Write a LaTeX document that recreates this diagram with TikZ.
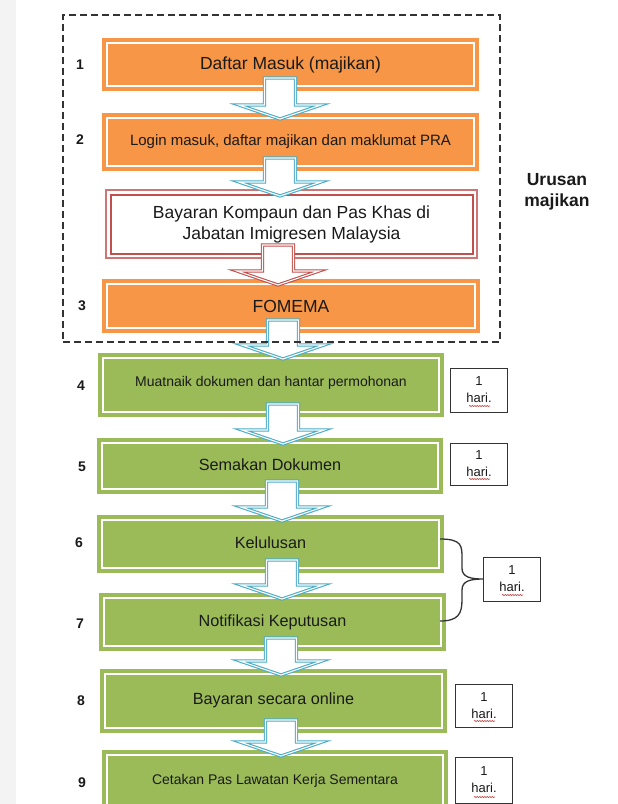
\documentclass[tikz,border=0pt]{standalone}
\usepackage{fontspec}
\setmainfont{Liberation Sans}
\usetikzlibrary{calc,decorations.pathmorphing}
\definecolor{orangeC}{HTML}{F79646}
\definecolor{greenC}{HTML}{9BBB59}
\definecolor{blueC}{HTML}{4BACC6}
\definecolor{redC}{HTML}{C0504D}
\definecolor{redL}{HTML}{CF7573}
\definecolor{txtC}{HTML}{1A1A1A}
\definecolor{stripC}{HTML}{F3F3F3}
\definecolor{lineC}{HTML}{333333}
\newcommand\fsz[2]{\fontsize{#1}{#2}\selectfont}
\newcommand\bArrow[4]{%
  \draw[barrow=#1] let \p1=(#2.south), \p2=(#3.north) in
    ({#4pt-15.5pt},{\y1+13pt}) -- ({#4pt+15.5pt},{\y1+13pt}) --
    ({#4pt+15.5pt},{\y2+8pt}) -- ({#4pt+41pt},{\y2+8pt}) --
    ({#4pt},{\y2-6pt}) -- ({#4pt-41pt},{\y2+8pt}) --
    ({#4pt-15.5pt},{\y2+8pt}) -- cycle;}
\begin{document}
\begin{tikzpicture}[x=1pt,y=-1pt,
  every node/.style={inner sep=0pt, outer sep=0pt, text=txtC},
  fbox/.style={rectangle, fill=#1, align=center,
    path picture={\draw[white,line width=1.4pt]
      ([shift={(5pt,5pt)}]path picture bounding box.south west) rectangle
      ([shift={(-5pt,-5pt)}]path picture bounding box.north east);}},
  rbox/.style={rectangle, fill=white, draw=redL, line width=1.2pt, align=center,
    path picture={\draw[redC,line width=2pt]
      ([shift={(4.5pt,4.5pt)}]path picture bounding box.south west) rectangle
      ([shift={(-4.5pt,-4.5pt)}]path picture bounding box.north east);}},
  num/.style={font=\fsz{14}{16}\bfseries},
  haribox/.style={rectangle, draw=lineC, line width=1pt, fill=white,
    minimum width=57pt, minimum height=44pt, align=center, font=\fsz{13}{17}},
  barrow/.style={fill=white, draw=#1, double=white, double distance=1.1pt,
    line width=1.1pt, line join=miter},
  squig/.style={redC, line width=0.6pt, decorate,
    decoration={snake, amplitude=0.6pt, segment length=2.5pt}},
  brace/.style={draw=lineC, line width=1.3pt},
  grp/.style={draw=lineC, line width=1.6pt, dash pattern=on 7pt off 4pt}]

\useasboundingbox (0,0) rectangle (618,804);
\clip (0,0) rectangle (618,804);
\fill[white] (0,0) rectangle (618,804);
\fill[stripC] (0,0) rectangle (16,804);

% boxes
\node[fbox=orangeC, minimum width=377pt, minimum height=53pt, font=\fsz{17.5}{21}]
  (b1) at (290.5,64.5) {Daftar Masuk (majikan)};
\node[fbox=orangeC, minimum width=377pt, minimum height=58pt, font=\fsz{15}{18}]
  (b2) at (290.5,142) {Login masuk, daftar majikan dan maklumat PRA};
\node[rbox, minimum width=371pt, minimum height=68pt, font=\fsz{17.5}{21}]
  (b3) at (291.5,224) {\raisebox{2.5pt}{\parbox{360pt}{\centering Bayaran Kompaun dan Pas Khas di\\Jabatan Imigresen Malaysia}}};
\node[fbox=orangeC, minimum width=378pt, minimum height=54pt, font=\fsz{17.5}{21}]
  (bF) at (291,306) {FOMEMA};
\node[fbox=greenC, minimum width=346pt, minimum height=64pt, font=\fsz{14}{17}]
  (b4) at (271,385) {\raisebox{7pt}{Muatnaik dokumen dan hantar permohonan}};
\node[fbox=greenC, minimum width=346pt, minimum height=56pt, font=\fsz{16.2}{19}]
  (b5) at (270,466) {\raisebox{2pt}{Semakan Dokumen}};
\node[fbox=greenC, minimum width=347pt, minimum height=58pt, font=\fsz{16.2}{19}]
  (b6) at (270.5,544) {\raisebox{2pt}{Kelulusan}};
\node[fbox=greenC, minimum width=347pt, minimum height=58pt, font=\fsz{16.2}{19}]
  (b7) at (272.5,622) {\raisebox{2pt}{Notifikasi Keputusan}};
\node[fbox=greenC, minimum width=347pt, minimum height=64pt, font=\fsz{16.2}{19}]
  (b8) at (273.5,701) {\raisebox{4pt}{Bayaran secara online}};
\node[fbox=greenC, minimum width=346pt, minimum height=64pt, font=\fsz{14}{17}]
  (b9) at (275,782) {\raisebox{5pt}{Cetakan Pas Lawatan Kerja Sementara}};

% step numbers
\node[num] (n1) at (80,65) {1};
\node[num] (n2) at (80,140) {2};
\node[num] (n3) at (82,306) {3};
\node[num] (n4) at (81,386) {4};
\node[num] (n5) at (82,467) {5};
\node[num] (n6) at (79,543) {6};
\node[num] (n7) at (80,624) {7};
\node[num] (n8) at (81,701) {8};
\node[num] (n9) at (82,783) {9};

% block arrows
\bArrow{blueC}{b1}{b2}{280}
\bArrow{blueC}{b2}{b3}{280}
\bArrow{redC}{b3}{bF}{278}
\bArrow{blueC}{bF}{b4}{283}
\bArrow{blueC}{b4}{b5}{283}
\bArrow{blueC}{b5}{b6}{282}
\bArrow{blueC}{b6}{b7}{282}
\bArrow{blueC}{b7}{b8}{281}
\bArrow{blueC}{b8}{b9}{281}

% employer group
\node[grp, minimum width=437pt, minimum height=327pt] (grpbox) at (281.5,178.5) {};
\node[font=\fsz{17.5}{21}\bfseries, align=center] (urusan) at (557,191.5) {Urusan\\majikan};

% day boxes
\node[haribox, minimum height=44pt] (hb4) at (479,390) {1\\hari.};
\node[haribox, minimum height=42pt] (hb5) at (479,464) {1\\hari.};
\node[haribox] (hb67) at (512,579) {1\\hari.};
\node[haribox, minimum height=43pt] (hb8) at (484,705.5) {1\\hari.};
\node[haribox, minimum height=46pt] (hb9) at (484,780) {1\\hari.};
\foreach \h in {hb4,hb5,hb67,hb8,hb9}{
  \draw[squig] ([xshift=-10pt,yshift=6pt]\h.south) -- ([xshift=11pt,yshift=6pt]\h.south);
}

% brace for steps 6 and 7
\draw[brace] ([xshift=-4pt,yshift=5pt]b6.east) .. controls (462,539) and (462,546) .. (462,558)
  -- (462,568) .. controls (462,577) and (470,579) .. (hb67.west)
  .. controls (470,579) and (462,581) .. (462,590)
  -- (462,600) .. controls (462,614) and (458,621) .. ([xshift=-6pt,yshift=1pt]b7.east);
\end{tikzpicture}
\end{document}
